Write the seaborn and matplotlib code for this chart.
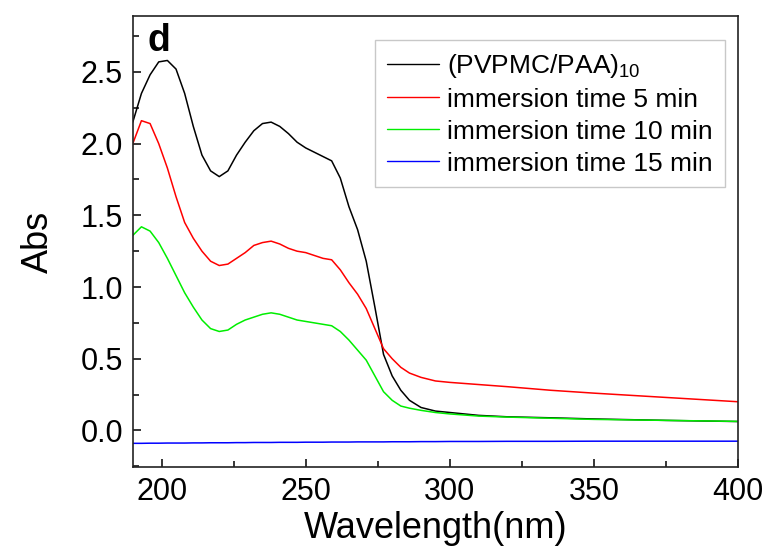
import numpy as np
import pandas as pd
import matplotlib
matplotlib.use('Agg')
import matplotlib.pyplot as plt
from matplotlib.ticker import MultipleLocator
import seaborn as sns

# wavelength grid (nm)
wavelength = [190, 193, 196, 199, 202, 205, 208, 211, 214, 217, 220, 223, 226, 229,
              232, 235, 238, 241, 244, 247, 250, 253, 256, 259, 262, 265, 268, 271,
              274, 277, 280, 283, 286, 290, 295, 300, 310, 320, 335, 350, 375, 400]

# absorbance of each sample
abs_film = [2.15, 2.35, 2.48, 2.57, 2.58, 2.52, 2.35, 2.12, 1.92, 1.81, 1.77, 1.81, 1.92, 2.01,
            2.09, 2.14, 2.15, 2.12, 2.07, 2.01, 1.97, 1.94, 1.91, 1.88, 1.76, 1.56, 1.40, 1.18,
            0.86, 0.53, 0.38, 0.28, 0.21, 0.16, 0.135, 0.125, 0.105, 0.095, 0.088, 0.08, 0.07, 0.062]
abs_5min = [2.00, 2.16, 2.14, 2.00, 1.83, 1.63, 1.45, 1.34, 1.25, 1.18, 1.15, 1.16, 1.20, 1.24,
            1.29, 1.31, 1.32, 1.30, 1.27, 1.25, 1.24, 1.22, 1.20, 1.19, 1.12, 1.03, 0.95, 0.85,
            0.71, 0.57, 0.50, 0.44, 0.40, 0.37, 0.345, 0.335, 0.32, 0.305, 0.28, 0.26, 0.23, 0.20]
abs_10min = [1.36, 1.42, 1.39, 1.31, 1.20, 1.08, 0.96, 0.86, 0.77, 0.71, 0.69, 0.70, 0.74, 0.77,
             0.79, 0.81, 0.82, 0.81, 0.79, 0.77, 0.76, 0.75, 0.74, 0.73, 0.69, 0.63, 0.56, 0.49,
             0.38, 0.27, 0.21, 0.17, 0.155, 0.14, 0.125, 0.115, 0.10, 0.093, 0.085, 0.077, 0.07, 0.063]
abs_15min = [-0.090, -0.090, -0.089, -0.089, -0.088, -0.088, -0.088, -0.087, -0.087, -0.086,
             -0.086, -0.086, -0.085, -0.085, -0.084, -0.084, -0.084, -0.083, -0.083, -0.083,
             -0.082, -0.082, -0.082, -0.081, -0.081, -0.081, -0.080, -0.080, -0.080, -0.080,
             -0.079, -0.079, -0.079, -0.078, -0.078, -0.077, -0.077, -0.076, -0.076, -0.075,
             -0.075, -0.075]

labels = ['(PVPMC/PAA)$_{10}$', 'immersion time 5 min',
          'immersion time 10 min', 'immersion time 15 min']
colors = ['#000000', '#ff0000', '#00ee00', '#0000ff']

df = pd.concat([
    pd.DataFrame({'wl': wavelength, 'abs': vals, 'sample': lab})
    for vals, lab in zip([abs_film, abs_5min, abs_10min, abs_15min], labels)
])

sns.set_theme(style='ticks')
plt.rcParams['font.family'] = ['Liberation Sans', 'DejaVu Sans']
plt.rcParams['mathtext.default'] = 'regular'
plt.rcParams['xtick.direction'] = 'in'
plt.rcParams['ytick.direction'] = 'in'
plt.rcParams['text.color'] = 'black'
plt.rcParams['axes.labelcolor'] = 'black'

fig, ax = plt.subplots(figsize=(7.72, 5.52), dpi=100)
fig.subplots_adjust(left=0.172, right=0.956, top=0.971, bottom=0.154)

sns.lineplot(data=df, x='wl', y='abs', hue='sample', hue_order=labels,
             palette=dict(zip(labels, colors)), linewidth=1.1, ax=ax)

ax.set_xlim(190, 400)
ax.set_ylim(-0.255, 2.89)
ax.xaxis.set_major_locator(MultipleLocator(50))
ax.xaxis.set_minor_locator(MultipleLocator(25))
ax.yaxis.set_major_locator(MultipleLocator(0.5))
ax.yaxis.set_minor_locator(MultipleLocator(0.25))
ax.yaxis.set_major_formatter(matplotlib.ticker.FormatStrFormatter('%.1f'))
ax.tick_params(which='major', length=6, width=1.1, labelsize=22, pad=7,
               color='black', labelcolor='black')
ax.tick_params(which='minor', length=4, width=1.1, color='black')
ax.tick_params(top=False, right=False, which='both')
for s in ax.spines.values():
    s.set_linewidth(1.2)
    s.set_color('#222222')

ax.set_xlabel('Wavelength(nm)', fontsize=26, labelpad=3)
ax.set_ylabel('Abs', fontsize=26, labelpad=18)

ax.text(0.025, 0.985, 'd', transform=ax.transAxes, fontsize=27,
        fontweight='bold', va='top', ha='left')

leg = ax.legend(loc='upper right', bbox_to_anchor=(0.978, 0.947), fontsize=19,
                frameon=True, fancybox=False, edgecolor='#bbbbbb',
                labelspacing=0.3, handlelength=2.0, handletextpad=0.3,
                borderpad=0.45, borderaxespad=0)
leg.get_frame().set_linewidth(1.0)
for line in leg.get_lines():
    line.set_linewidth(1.0)

fig.savefig('out.png', dpi=100)
